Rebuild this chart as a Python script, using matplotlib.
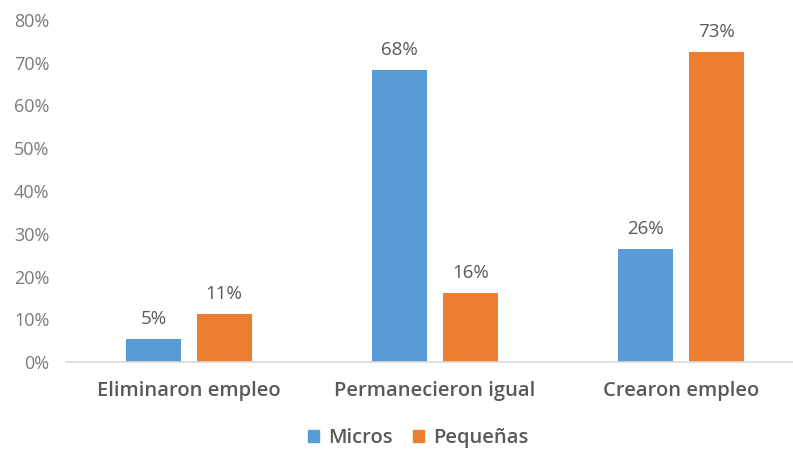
import matplotlib
matplotlib.use("Agg")
import matplotlib.pyplot as plt
import numpy as np
from matplotlib.patches import Patch

categories = ["Eliminaron empleo", "Permanecieron igual", "Crearon empleo"]
series_names = ["Micros", "Pequeñas"]
micros = [0.054, 0.682, 0.264]
pequenas = [0.113, 0.161, 0.726]
yticks = [0, 0.1, 0.2, 0.3, 0.4, 0.5, 0.6, 0.7, 0.8]

blue = "#5B9BD5"
orange = "#ED7D31"

plt.rcParams['font.family'] = ['Open Sans', 'DejaVu Sans']

fig = plt.figure(figsize=(7.93, 4.5), dpi=100)
ax = fig.add_axes([66/793, 88/450, (793-66)/793, (362-20)/450])

x = np.arange(len(categories))
w = 0.224
off = 0.143
b1 = ax.bar(x - off, micros, w, color=blue)
b2 = ax.bar(x + off, pequenas, w, color=orange)

for bars, vals in ((b1, micros), (b2, pequenas)):
    for r, v in zip(bars, vals):
        ax.annotate(f"{round(v*100):d}%", (r.get_x() + r.get_width()/2, v),
                    xytext=(0, 8), textcoords="offset points",
                    ha="center", va="bottom", fontsize=13.5, color="#595959")

ax.set_xlim(-0.5, 2.5 - 11/246)
ax.set_ylim(0, 0.8)
ax.set_yticks(yticks)
ax.set_yticklabels([f"{int(round(t*100))}%" for t in yticks])
ax.set_xticks(x)
ax.set_xticklabels(categories, fontweight="semibold")
ax.tick_params(axis="y", length=0, pad=12, labelsize=13, labelcolor="#7a7a7a")
ax.tick_params(axis="x", length=0, pad=14, labelsize=14.5, labelcolor="#595959")
for s in ["top", "right", "left"]:
    ax.spines[s].set_visible(False)
ax.spines["bottom"].set_color("#d9d9d9")
ax.spines["bottom"].set_linewidth(1.2)

handles = [Patch(color=blue), Patch(color=orange)]
leg = fig.legend(handles, series_names, loc="center", bbox_to_anchor=(418/793, 1 - 438/450),
                 ncol=2, frameon=False, handlelength=0.55, handleheight=0.55,
                 handletextpad=0.45, columnspacing=1.0,
                 prop={"size": 14.5, "weight": "semibold"})
for t in leg.get_texts():
    t.set_color("#595959")

fig.savefig("out.png", dpi=100)
